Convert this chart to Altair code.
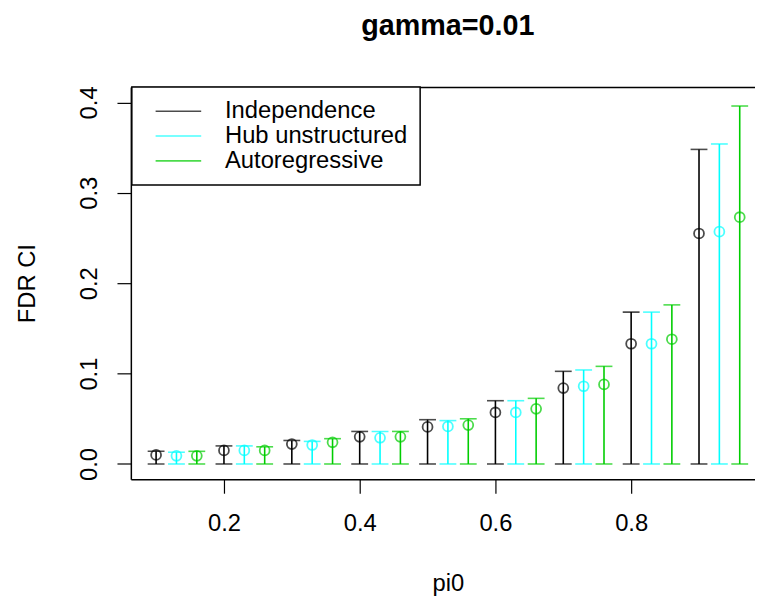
import altair as alt
import pandas as pd

# ---- data ----
pi0 = [0.1, 0.2, 0.3, 0.4, 0.5, 0.6, 0.7, 0.8, 0.9]
series = ["Independence", "Hub unstructured", "Autoregressive"]
colors = ["#000000", "#00FFFF", "#00CD00"]

indep_mean = [0.010, 0.015, 0.022, 0.030, 0.041, 0.057, 0.084, 0.133, 0.255]
indep_lower = [0, 0, 0, 0, 0, 0, 0, 0, 0]
indep_upper = [0.014, 0.020, 0.026, 0.036, 0.049, 0.070, 0.1025, 0.168, 0.348]

hub_mean = [0.009, 0.015, 0.021, 0.029, 0.0415, 0.057, 0.086, 0.133, 0.257]
hub_lower = [0, 0, 0, 0, 0, 0, 0, 0, 0]
hub_upper = [0.013, 0.020, 0.025, 0.036, 0.048, 0.070, 0.104, 0.168, 0.354]

ar_mean = [0.009, 0.015, 0.024, 0.030, 0.043, 0.061, 0.088, 0.138, 0.273]
ar_lower = [0, 0, 0, 0, 0, 0, 0, 0, 0]
ar_upper = [0.014, 0.019, 0.028, 0.036, 0.050, 0.0726, 0.108, 0.176, 0.396]

x_ticks = [0.2, 0.4, 0.6, 0.8]
y_ticks = [0.0, 0.1, 0.2, 0.3, 0.4]

# ---- build table ----
rows = []
dodge = 0.03
for k, (name, m, lo, up) in enumerate([
    (series[0], indep_mean, indep_lower, indep_upper),
    (series[1], hub_mean, hub_lower, hub_upper),
    (series[2], ar_mean, ar_lower, ar_upper),
]):
    for p, mv, lv, uv in zip(pi0, m, lo, up):
        rows.append({"series": name, "pi0": p, "xpos": p + k * dodge,
                     "mean": mv, "lower": lv, "upper": uv})
df = pd.DataFrame(rows)

FONT = "Liberation Sans"
W, H = 630, 396

xscale = alt.Scale(domain=[0.0628, 0.9825], nice=False, zero=False)
yscale = alt.Scale(domain=[-0.017, 0.417], nice=False, zero=False)

color = alt.Color(
    "series:N",
    scale=alt.Scale(domain=series, range=colors),
    legend=alt.Legend(
        orient="none", legendX=1, legendY=0, title=None,
        symbolType="M-2,0H2", symbolSize=529, symbolStrokeWidth=1.6,
        symbolOffset=22.5, labelOffset=34.5, padding=12,
        labelFont=FONT, labelFontSize=24, labelColor="#000000", labelLimit=0,
        fillColor="white", strokeColor="#000000",
        rowPadding=-2.5,
    ),
)

x_axis_bottom = alt.Axis(
    values=x_ticks, format=".1f", title="pi0", orient="bottom",
    labelBaseline="alphabetic", labelPadding=38,
    titleX=320, titleY=112, titleBaseline="alphabetic", titleAlign="center",
    titleFontWeight="normal", titleFontSize=24, titleFont=FONT,
    grid=False, domain=True,
)
x_axis_top = alt.Axis(
    orient="top", labels=False, ticks=False, title=None, grid=False, domain=True,
)
y_axis = alt.Axis(
    values=y_ticks, format=".1f", title="FDR CI",
    labelAngle=-90, labelAlign="center", labelBaseline="alphabetic", labelPadding=21,
    titleX=-97, titleY=H / 2, titleAngle=270, titleBaseline="alphabetic", titleAlign="center",
    titleFontWeight="normal", titleFontSize=24, titleFont=FONT,
    grid=False, domain=True,
)

base = alt.Chart(df)

rules = base.mark_rule(strokeWidth=1.6).encode(
    x=alt.X("xpos:Q", scale=xscale, axis=x_axis_bottom),
    y=alt.Y("lower:Q", scale=yscale, axis=y_axis),
    y2="upper:Q",
    color=color,
)
cap_up = base.mark_tick(orient="horizontal", size=17, thickness=1.6).encode(
    x=alt.X("xpos:Q", scale=xscale, axis=x_axis_top),
    y=alt.Y("upper:Q", scale=yscale, axis=None),
    color=color,
)
cap_lo = base.mark_tick(orient="horizontal", size=17, thickness=1.6).encode(
    x=alt.X("xpos:Q", scale=xscale, axis=None),
    y=alt.Y("lower:Q", scale=yscale, axis=None),
    color=color,
)
points = base.mark_point(shape="circle", filled=False, size=100, strokeWidth=1.8).encode(
    x=alt.X("xpos:Q", scale=xscale, axis=None),
    y=alt.Y("mean:Q", scale=yscale, axis=None),
    color=color,
)

chart = (
    alt.layer(rules, cap_up, cap_lo, points)
    .resolve_axis(x="independent", y="independent")
    .properties(
        width=W, height=H,
        title=alt.Title("gamma=0.01", fontSize=29, fontWeight="bold", font=FONT,
                        anchor="middle", frame="group", dx=5, offset=22,
                        baseline="alphabetic", color="#000000"),
        autosize=alt.AutoSizeParams(type="none"),
        padding={"left": 124, "top": 77, "right": 0, "bottom": 118},
    )
    .configure(font=FONT)
    .configure_view(stroke=None)
    .configure_legend(strokeWidth=1.5)
    .configure_axis(
        labelFont=FONT, labelFontSize=24, labelColor="#000000",
        tickColor="#000000", tickSize=14, tickWidth=1.2,
        domainColor="#000000", domainWidth=1.5, titleColor="#000000",
    )
)

chart.save("out.html", embed_options={"renderer": "svg", "actions": False})
